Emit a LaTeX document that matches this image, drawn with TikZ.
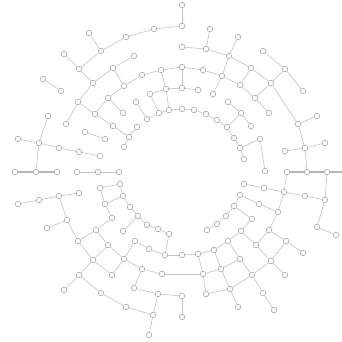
\documentclass[tikz,border=0pt]{standalone}
\usetikzlibrary{calc}
\definecolor{edgec}{RGB}{192,196,199}
\definecolor{dotc}{RGB}{165,176,183}
\definecolor{rowc}{RGB}{178,182,185}
\begin{document}
\begin{tikzpicture}[x=1mm,y=-1mm,
  dot/.style={circle,draw=dotc,fill=white,line width=0.65mm,inner sep=0pt,minimum size=5.6mm},
  edge/.style={draw=edgec,line width=0.6mm},
  rowedge/.style={draw=rowc,line width=1.2mm}]
\useasboundingbox (0,0) rectangle (342,342);
\fill[white] (0,0) rectangle (342,342);
\foreach \n/\x/\y in {
 a1/182/5,a2/182/26,a3/154/29,a4/126/37,a5/101/51,a6/89/33,a7/79/69,a8/64/54,a9/93/83,a10/78/102,
 a11/66/124,a12/95/114,a13/113/126,a14/129/137,a15/137/127,a16/124/147,a17/108/98,a18/123/113,a19/113/68,a20/134/56,
 a21/124/86,a22/142/75,a23/161/70,a24/182/67,a25/203/70,a26/222/76,a27/213/94,a28/166/89,a29/182/88,a30/198/90,
 a31/150/94,a32/159/113,a33/169/110,a34/182/109,a35/194/110,a36/206/114,a37/217/120,a38/227/127,a39/136/102,a40/147/119,
 a41/43/79,a42/61/91,a43/48/116,a44/39/143,a45/18/139,a46/59/148,a47/79/152,a48/100/156,a49/85/132,a50/105/139,
 a51/15/172,a52/36/172,a53/57/172,a54/77/172,a55/98/172,a56/119/172,
 b1/182/47,b2/206/49,b3/210/29,b4/229/56,b5/238/37,b6/251/68,b7/240/85,b8/255/98,b9/269/113,b10/271/83,
 b11/285/69,b12/263/51,b13/303/91,b14/298/124,b15/317/116,b16/305/148,b17/325/143,b18/285/151,b19/307/172,b20/287/172,
 b21/327/172,b23/241/113,b24/228/102,b25/251/126,b26/234/138,b27/240/148,b28/244/159,b29/260/139,b30/265/171,
 c1/244/184,c2/264/188,c3/284/192,c4/305/196,c5/325/200,c6/317/227,c7/336/235,c8/240/195,c9/259/204,c10/278/212,
 c11/234/206,c12/226/216,c13/217/224,c14/207/230,c15/252/219,c16/241/231,c17/228/241,c18/269/230,c19/256/245,c20/286/241,
 c21/303/253,c22/271/261,c23/285/275,c24/252/275,c25/263/293,c26/274/310,c27/240/259,c28/214/250,c29/221/269,c30/230/289,
 c31/238/307,c32/198/254,c33/182/255,c34/165/255,c35/203/274,c36/206/294,c37/182/296,c38/182/317,
 d1/18/204,d2/39/200,d3/59/196,d4/79/193,d5/67/220,d6/47/228,d7/78/241,d8/96/230,d9/112/218,d10/105/204,
 d11/100/188,d12/120/184,d13/123/196,d14/108/245,d15/93/260,d16/124/259,d17/112/275,d18/79/275,d19/64/290,d20/101/293,
 d21/126/307,d22/153/315,d23/149/335,d24/142/269,d25/162/274,d26/134/288,d27/158/294,d28/135/241,d29/149/249,d30/130/207,
 d31/138/216,d32/123/231,d33/147/225,d34/158/229,d35/169/234}
 \node[dot] (\n) at (\x,\y) {};
\coordinate (redge) at (342,172);
\foreach \u/\v in {
 a1/a2,a2/a3,a3/a4,a4/a5,a5/a6,a5/a7,a8/a7,a7/a9,a9/a19,a19/a20,a19/a21,a21/a22,a22/a23,a23/a24,a24/a25,a25/a26,
 a9/a10,a10/a11,a10/a12,a12/a17,a17/a18,a17/a21,a12/a13,a13/a14,a14/a15,a14/a16,a23/a28,a24/a29,a28/a29,a29/a30,
 a28/a31,a31/a32,a32/a33,a28/a33,a33/a34,a34/a35,a35/a36,a36/a37,a37/a38,a39/a40,a40/a32,a41/a42,a43/a44,a44/a45,
 a44/a46,a46/a47,a47/a48,a44/a52,a49/a50,a54/a55,a55/a56,
 b1/b2,b2/b3,b2/b4,b4/b5,b4/a26,a26/a27,b4/b6,b6/b10,b10/b14,b14/b16,b16/b19,a26/b7,b7/b8,b8/b9,b6/b7,b10/b8,
 b10/b11,b11/b12,b11/b13,b14/b15,b16/b17,b16/b18,b24/b23,b23/a38,b23/b25,a38/b26,b26/b27,b27/b28,b27/b29,b29/b30,
 c1/c2,c2/c3,c3/c4,c4/c5,c3/b20,c5/b21,c5/c6,c6/c7,c3/c10,c8/c9,c9/c10,c8/c11,c11/c12,c12/c13,c13/c14,c11/c15,
 c15/c16,c16/c17,c16/c19,c10/c18,c18/c19,c18/c20,c20/c21,c20/c22,c19/c22,c22/c23,c22/c24,c17/c27,c27/c24,c28/c17,
 c27/c29,c29/c30,c24/c30,c30/c31,c24/c25,c25/c26,c34/c33,c33/c32,c32/c28,c28/c29,c29/c35,c35/c32,c35/c36,c36/c30,
 d25/c35,d27/c37,c37/c38,
 d1/d2,d2/d3,d3/d4,d3/d5,d5/d6,d5/d7,d7/d8,d8/d9,d9/d10,d10/d11,d11/d12,d12/d13,d13/d10,d8/d14,d7/d15,d15/d14,
 d14/d16,d16/d17,d17/d15,d15/d18,d18/d19,d18/d20,d20/d21,d21/d22,d22/d23,d16/d24,d24/d25,d24/d26,d26/d27,d27/d22,
 d16/d28,d28/d29,d29/c34,d13/d30,d30/d31,d31/d32,d31/d33,d33/d34,d34/d35,d35/c34}
 \draw[edge] (\u) -- (\v);
\foreach \u/\v in {a51/a52,a52/a53,b20/b19,b19/b21,b21/redge}
 \draw[rowedge] (\u) -- (\v);
\end{tikzpicture}
\end{document}
